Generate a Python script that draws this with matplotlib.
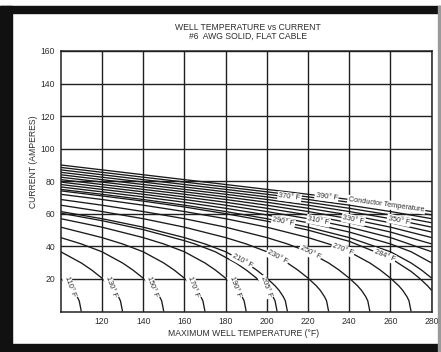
import numpy as np
import matplotlib.pyplot as plt
from matplotlib.patches import Rectangle

# curves: max well temperature (F) vs current (A)
# one curve per conductor temperature
x_full = [100, 120, 140, 160, 180, 200, 220, 240, 260, 280]
i390 = [90.0, 87.0, 84.0, 81.0, 78.0, 75.0, 72.0, 68.8, 65.3, 61.4]
i380 = [88.5, 85.5, 82.5, 79.5, 76.5, 73.5, 70.4, 67.1, 63.4, 59.3]
i370 = [87.0, 84.0, 81.0, 78.0, 75.0, 72.0, 68.8, 65.3, 61.4, 57.0]
i360 = [85.5, 82.5, 79.5, 76.5, 73.5, 70.4, 67.1, 63.4, 59.3, 54.5]
i350 = [84.0, 81.0, 78.0, 75.0, 72.0, 68.8, 65.3, 61.4, 57.0, 51.8]
i340 = [82.5, 79.5, 76.5, 73.5, 70.4, 67.1, 63.4, 59.3, 54.5, 48.8]
i330 = [81.0, 78.0, 75.0, 72.0, 68.8, 65.3, 61.4, 57.0, 51.8, 45.4]
i320 = [79.5, 76.5, 73.5, 70.4, 67.1, 63.4, 59.3, 54.5, 48.8, 41.5]
i310 = [78.0, 75.0, 72.0, 68.8, 65.3, 61.4, 57.0, 51.8, 45.4, 36.7]

x300 = [100, 120, 140, 160, 180, 200, 220, 240, 260, 270, 280]
i300 = [76.5, 73.5, 70.4, 67.1, 63.4, 59.3, 54.5, 48.8, 41.5, 36.7, 29.8]
x290 = [100, 120, 140, 160, 180, 200, 220, 240, 260, 270, 275, 280]
i290 = [75.0, 72.0, 68.8, 65.3, 61.4, 57.0, 51.8, 45.4, 36.7, 29.8, 25.5, 20.5]
x284 = [100, 120, 140, 160, 180, 200, 220, 240, 260, 270, 274, 278, 280]
i284 = [74.1, 71.0, 67.8, 64.2, 60.1, 55.5, 50.0, 43.1, 32.8, 24.6, 20.5, 15.8, 12.9]
x270 = [100, 120, 140, 160, 180, 200, 220, 230, 240, 250, 255, 260, 264, 266, 268, 269, 270]
i270 = [72.0, 68.8, 65.3, 61.4, 57.0, 51.8, 45.4, 41.5, 36.7, 29.8, 25.5, 20.5, 15.8, 12.9, 9.1, 6.5, 0]
x250 = [100, 120, 140, 160, 180, 200, 210, 220, 230, 235, 240, 244, 246, 248, 249, 250]
i250 = [68.8, 65.3, 61.4, 57.0, 51.8, 45.4, 41.5, 36.7, 29.8, 25.5, 20.5, 15.8, 12.9, 9.1, 6.5, 0]
x230 = [100, 120, 140, 160, 180, 190, 200, 210, 215, 220, 224, 226, 228, 229, 230]
i230 = [65.3, 61.4, 57.0, 51.8, 45.4, 41.5, 36.7, 29.8, 25.5, 20.5, 15.8, 12.9, 9.1, 6.5, 0]
x210 = [100, 120, 140, 160, 170, 180, 190, 195, 200, 204, 206, 208, 209, 210]
i210 = [61.4, 57.0, 51.8, 45.4, 41.5, 36.7, 29.8, 25.5, 20.5, 15.8, 12.9, 9.1, 6.5, 0]
x205 = [100, 120, 140, 160, 165, 175, 185, 190, 195, 199, 201, 203, 204, 205]
i205 = [60.4, 55.8, 50.3, 43.5, 41.5, 36.7, 29.8, 25.5, 20.5, 15.8, 12.9, 9.1, 6.5, 0]
x190 = [100, 120, 140, 150, 160, 170, 175, 180, 184, 186, 188, 189, 190]
i190 = [57.0, 51.8, 45.4, 41.5, 36.7, 29.8, 25.5, 20.5, 15.8, 12.9, 9.1, 6.5, 0]
x170 = [100, 120, 130, 140, 150, 155, 160, 164, 166, 168, 169, 170]
i170 = [51.8, 45.4, 41.5, 36.7, 29.8, 25.5, 20.5, 15.8, 12.9, 9.1, 6.5, 0]
x150 = [100, 110, 120, 130, 135, 140, 144, 146, 148, 149, 150]
i150 = [45.4, 41.5, 36.7, 29.8, 25.5, 20.5, 15.8, 12.9, 9.1, 6.5, 0]
x130 = [100, 110, 115, 120, 124, 126, 128, 129, 130]
i130 = [36.7, 29.8, 25.5, 20.5, 15.8, 12.9, 9.1, 6.5, 0]
x110 = [100, 102, 104, 106, 108, 109, 110]
i110 = [20.5, 18.3, 15.8, 12.9, 9.1, 6.5, 0]

x_ticks = [120, 140, 160, 180, 200, 220, 240, 260, 280]
y_ticks = [20, 40, 60, 80, 100, 120, 140, 160]

curves = {
    390: (x_full, i390), 380: (x_full, i380), 370: (x_full, i370),
    360: (x_full, i360), 350: (x_full, i350), 340: (x_full, i340),
    330: (x_full, i330), 320: (x_full, i320), 310: (x_full, i310),
    300: (x300, i300), 290: (x290, i290), 284: (x284, i284),
    270: (x270, i270), 250: (x250, i250), 230: (x230, i230),
    210: (x210, i210), 205: (x205, i205), 190: (x190, i190),
    170: (x170, i170), 150: (x150, i150), 130: (x130, i130),
    110: (x110, i110),
}

plt.rcParams['font.family'] = ['Liberation Sans', 'DejaVu Sans']
txt_col = '#2e2e2e'
fs = 6.2

fig = plt.figure(figsize=(4.41, 3.52), dpi=100)
W, H = 441, 352

# black frame around the scan (right edge only a thin grey line)
for (x0, y0, w, h, c) in [(0, 6, 441, 7, '#111111'), (0, 6, 12, 346, '#111111'),
                          (0, 344, 441, 8, '#111111'), (438, 6, 2, 346, '#9a9a9a')]:
    fig.patches.append(Rectangle((x0 / W, 1 - (y0 + h) / H), w / W, h / H,
                                 transform=fig.transFigure, color=c, zorder=0))

ax = fig.add_axes([60.7 / W, 1 - 311.5 / H, (431.7 - 60.7) / W, (311.5 - 51) / H])
ax.set_xlim(100, 280)
ax.set_ylim(0, 160)
ax.set_xticks(x_ticks)
ax.set_yticks(y_ticks)
ax.tick_params(length=0, labelsize=fs, labelcolor=txt_col, pad=4)
ax.grid(True, color='#202020', lw=1.0)
for s in ax.spines.values():
    s.set_linewidth(1.1)
    s.set_color('#202020')

for t, (xs, ys) in curves.items():
    ax.plot(xs, ys, color='#1a1a1a', lw=0.95, solid_capstyle='butt')


def slope_angle(xs, ys, xpos, dx=2.0):
    p0 = ax.transData.transform((xpos - dx, np.interp(xpos - dx, xs, ys)))
    p1 = ax.transData.transform((xpos + dx, np.interp(xpos + dx, xs, ys)))
    return np.degrees(np.arctan2(p1[1] - p0[1], p1[0] - p0[0]))


# curve labels: (curve, well temp where the label sits, rotation or None)
labels = [
    (370, 211, None), (390, 229, None),
    (290, 208, None), (310, 225, None), (330, 242, None), (350, 264, None),
    (210, 188, None), (230, 205, None), (250, 221, None), (270, 237, None), (284, 257, None),
    (110, 104.5, -70), (130, 124.5, -70), (150, 144.5, -70),
    (170, 164.5, -70), (190, 184.5, -70), (205, 199.5, -70),
]
for t, xpos, rot in labels:
    xs, ys = curves[t]
    if rot is None:
        rot = slope_angle(xs, ys, xpos)
    ax.text(xpos, np.interp(xpos, xs, ys), f'{t}\u00b0 F', fontsize=5.3, color=txt_col,
            rotation=rot, rotation_mode='anchor', ha='center', va='center',
            bbox=dict(facecolor='white', edgecolor='none', pad=0.8), zorder=5)

xs, ys = curves[390]
ax.text(258, np.interp(258, xs, ys), 'Conductor Temperature', fontsize=5.3, color=txt_col,
        rotation=slope_angle(xs, ys, 258), rotation_mode='anchor', ha='center', va='center',
        bbox=dict(facecolor='white', edgecolor='none', pad=0.8), zorder=5)

fig.text(248 / W, 1 - 27 / H, 'WELL TEMPERATURE vs CURRENT', ha='center', va='center',
         fontsize=fs, color=txt_col)
fig.text(248 / W, 1 - 36 / H, '#6  AWG SOLID, FLAT CABLE', ha='center', va='center',
         fontsize=fs, color=txt_col)
fig.text(33 / W, 1 - 162 / H, 'CURRENT (AMPERES)', rotation=90, ha='center', va='center',
         fontsize=fs, color=txt_col)
fig.text(244 / W, 1 - 333 / H, 'MAXIMUM WELL TEMPERATURE (\u00b0F)', ha='center', va='center',
         fontsize=fs, color=txt_col)

fig.savefig('out.png', dpi=100)
